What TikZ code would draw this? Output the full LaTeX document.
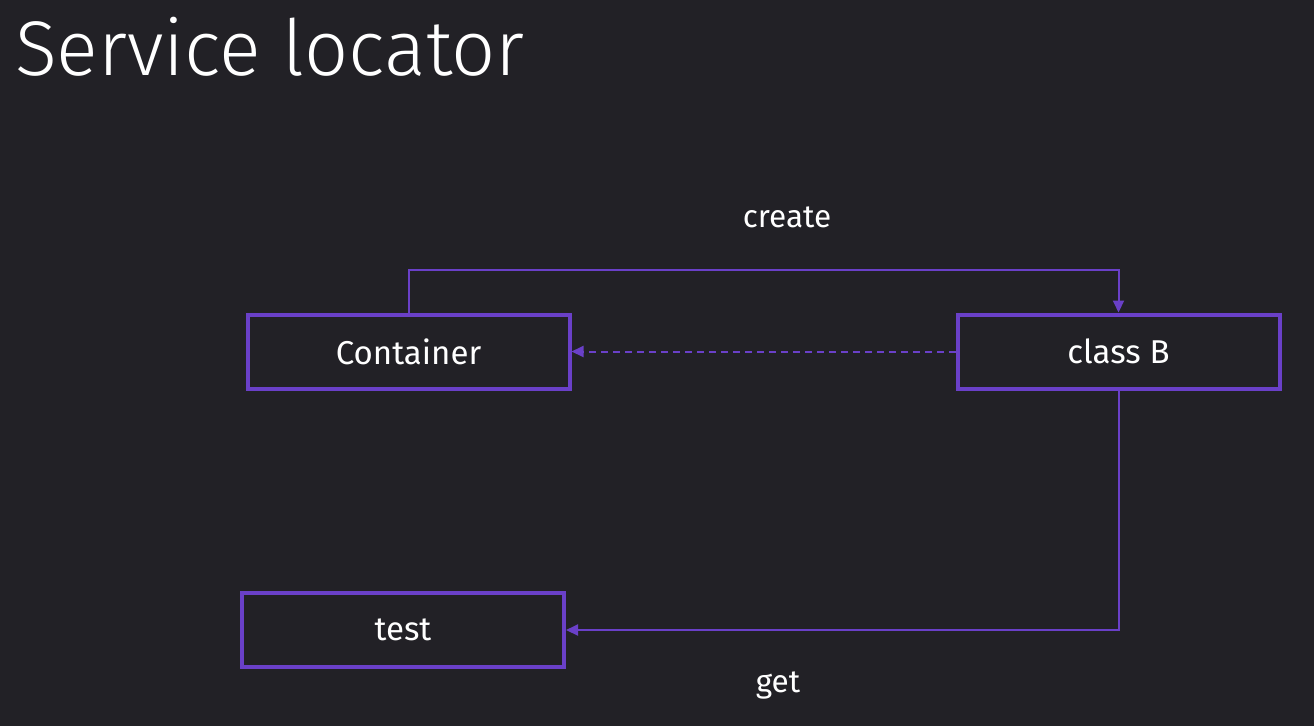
\documentclass[tikz,border=0pt]{standalone}
\usepackage{fontspec}
\setmainfont{Fira Sans}
\newfontfamily\titlefont{Fira Sans Light}
\usetikzlibrary{arrows.meta}
\definecolor{bg}{HTML}{222126}
\definecolor{purp}{HTML}{6A40C8}
\tikzset{
  box/.style={draw=purp, line width=4pt, minimum width=322pt, minimum height=74pt, inner sep=0pt, text=white, font=\fontsize{33}{40}\selectfont},
  conn/.style={draw=purp, line width=2pt, -{Triangle[length=12pt,width=11pt]}},
  lbl/.style={text=white, font=\fontsize{31.5}{38}\selectfont}
}
\begin{document}
\begin{tikzpicture}[x=1pt,y=-1pt]
\fill[bg] (0,0) rectangle (1314,726);
\useasboundingbox (0,0) rectangle (1314,726);
\node[anchor=base west, text=white, inner sep=0pt, font=\titlefont\fontsize{77.5}{90}\selectfont] (title) at (15,75) {Service locator};
\node[box] (cont) at (408.5,351.5) {Container};
\node[box] (clsb) at (1118.5,351.5) {class B};
\node[box] (test) at (403,630) {test};
\coordinate (c1) at (408.5,270);
\coordinate (c2) at (1118.5,270);
\coordinate (g1) at (1118.5,630);
\draw[conn] (cont.north) -- (c1) -- (c2) -- (clsb.north);
\draw[conn, dashed, dash pattern=on 7pt off 5pt] (clsb.west) -- (cont.east);
\draw[conn] (clsb.south) -- (g1) -- (test.east);
\node[lbl] (create) at (787,217) {create};
\node[lbl] (get) at (778,685) {get};
\end{tikzpicture}
\end{document}
